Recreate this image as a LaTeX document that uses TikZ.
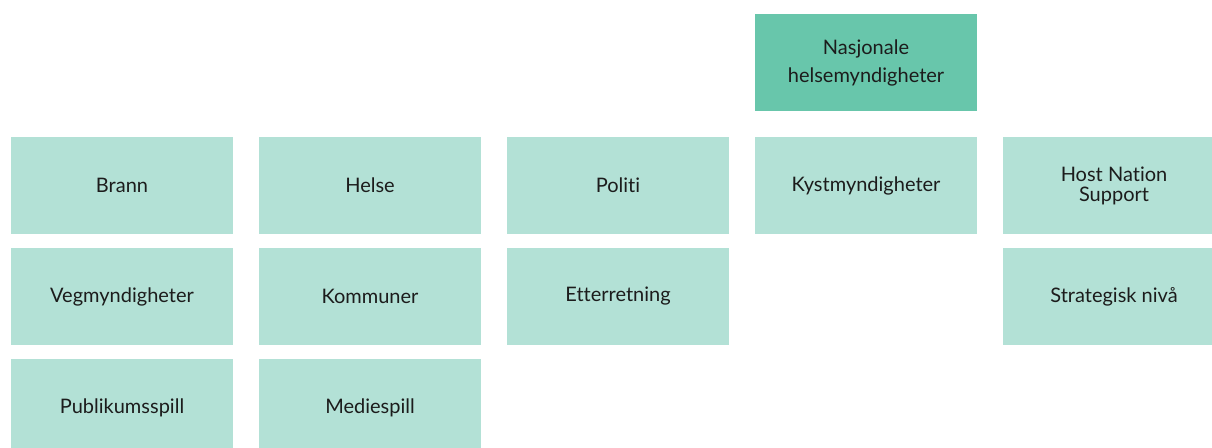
\documentclass[tikz,border=0pt]{standalone}
\usepackage{fontspec}
\setmainfont[Ligatures = NoCommon]{Lato}
\usetikzlibrary{positioning}
\definecolor{lightgreen}{HTML}{B3E1D6}
\definecolor{darkgreen}{HTML}{68C6AB}
\definecolor{textgray}{HTML}{1C1C1C}
\tikzset{unit/.style = {fill = lightgreen, text = textgray, inner sep = 0, outer sep = 0,
                        minimum width = 222pt, minimum height = 97pt,
                        align = center, font = \fontsize{20}{20}\selectfont}}
\tikzset{natlevel/.style = {unit, fill = darkgreen,
                            font = \fontsize{20}{28}\selectfont}}
\begin{document}
\begin{tikzpicture}[x = 1pt, y = -1pt, node distance = 14pt and 26pt]
        \clip (0, 0) rectangle (1212, 447);

        \node [unit] (brann) at (122, 185.5) {Brann};
        \node [unit, right = of brann] (helse) {Helse};
        \node [unit, right = of helse] (politi) {Politi};
        \node [unit, right = of politi] (kyst) {Kystmyndigheter};
        \node [unit, right = of kyst] (hns) {Host Nation\\Support};

        \node [unit, below = of brann] (veg) {Vegmyndigheter};
        \node [unit, below = of helse] (kommuner) {Kommuner};
        \node [unit, below = of politi] (etterretning) {Etterretning};
        \node [unit, below = of hns] (strategisk) {Strategisk nivå};

        \node [unit, below = of veg] (publikum) {Publikumsspill};
        \node [unit, below = of kommuner] (media) {Mediespill};

        \node [natlevel, above = 26pt of kyst] (nasjonal) {Nasjonale\\helsemyndigheter};
      \end{tikzpicture}
\end{document}
